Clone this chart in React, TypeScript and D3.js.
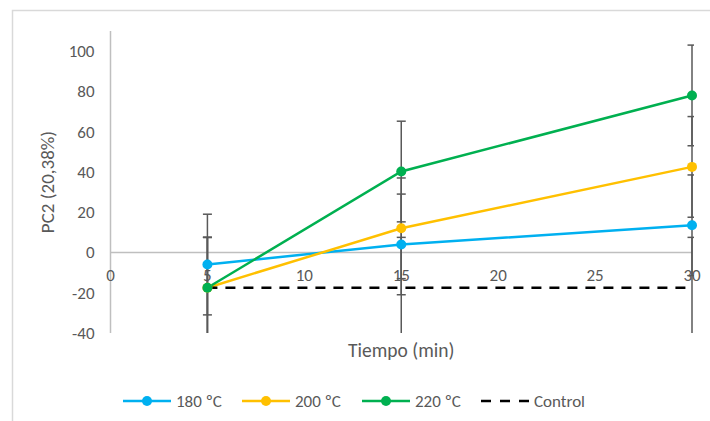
import React from 'react';
import * as d3 from 'd3';

// data
const times = [5, 15, 30];
const s180 = [-6, 4, 13.5];
const s200 = [-17.5, 12, 42.5];
const s220 = [-17.5, 40.2, 78];
const control = [-17.5, -17.5, -17.5];
const errorBar = 25;

const xTicks = [0, 5, 10, 15, 20, 25, 30];
const yTicks = [-40, -20, 0, 20, 40, 60, 80, 100];

const series = [
  { name: '180 ºC', values: s180, color: '#00B0F0', dashed: false },
  { name: '200 ºC', values: s200, color: '#FFC000', dashed: false },
  { name: '220 ºC', values: s220, color: '#00B050', dashed: false },
  { name: 'Control', values: control, color: '#000000', dashed: true },
];

const W = 710;
const H = 421;
const font = "Carlito, Calibri, 'Liberation Sans', sans-serif";

const App = () => {
  const x = d3.scaleLinear().domain([0, 30]).range([110.5, 692]);
  const y = d3.scaleLinear().domain([-40, 110]).range([333, 31]);

  const line = d3
    .line<number>()
    .x((d, i) => x(times[i]))
    .y((d) => y(d));

  const legendX = [123, 242, 362, 481];

  return (
    <svg
      width={W}
      height={H}
      style={{ position: 'absolute', left: 0, top: 0, background: '#fff' }}
    >
      <defs>
        <clipPath id="plot">
          <rect x={100} y={y(110)} width={594} height={y(-40) - y(110)} />
        </clipPath>
      </defs>

      {/* chart frame */}
      <rect x={12.5} y={10.5} width={720} height={430} fill="#fff" stroke="#D9D9D9" strokeWidth={1.5} />

      {/* axes */}
      <line x1={x(0)} x2={x(0)} y1={y(110)} y2={y(-40)} stroke="#BFBFBF" strokeWidth={1.5} />
      <line x1={x(0)} x2={x(30)} y1={y(0)} y2={y(0)} stroke="#BFBFBF" strokeWidth={1.5} />

      {yTicks.map((t) => (
        <text
          key={'y' + t}
          x={94.5}
          y={y(t)}
          dy="0.35em"
          textAnchor="end"
          fontFamily={font}
          fontSize={17}
          fill="#595959"
        >
          {t}
        </text>
      ))}

      {xTicks.map((t) => (
        <text
          key={'x' + t}
          x={x(t)}
          y={y(0) + 23}
          dy="0.35em"
          textAnchor="middle"
          fontFamily={font}
          fontSize={17}
          fill="#595959"
        >
          {t}
        </text>
      ))}

      <text
        transform={`translate(54,${(y(110) + y(-40)) / 2}) rotate(-90)`}
        textAnchor="middle"
        fontFamily={font}
        fontSize={19}
        fill="#595959"
      >
        PC2 (20,38%)
      </text>
      <text
        x={(x(0) + x(30)) / 2}
        y={357}
        textAnchor="middle"
        fontFamily={font}
        fontSize={19.5}
        fill="#595959"
      >
        Tiempo (min)
      </text>

      {/* error bars */}
      <g clipPath="url(#plot)" stroke="#595959" strokeWidth={1.5}>
        {series.map((s) =>
          s.values.map((v, i) => (
            <g key={s.name + i}>
              <line x1={x(times[i])} x2={x(times[i])} y1={y(v + errorBar)} y2={y(v - errorBar)} />
              <line x1={x(times[i]) - 4.5} x2={x(times[i]) + 4.5} y1={y(v + errorBar)} y2={y(v + errorBar)} />
              <line x1={x(times[i]) - 4.5} x2={x(times[i]) + 4.5} y1={y(v - errorBar)} y2={y(v - errorBar)} />
            </g>
          ))
        )}
      </g>

      {/* lines */}
      {series.map((s) => (
        <path
          key={'l' + s.name}
          d={line(s.values) || ''}
          fill="none"
          stroke={s.color}
          strokeWidth={2.5}
          strokeDasharray={s.dashed ? '10,8' : undefined}
        />
      ))}

      {/* markers */}
      {series
        .filter((s) => !s.dashed)
        .map((s) =>
          s.values.map((v, i) => (
            <circle key={'m' + s.name + i} cx={x(times[i])} cy={y(v)} r={5} fill={s.color} />
          ))
        )}

      {/* legend */}
      {series.map((s, i) => (
        <g key={'lg' + s.name} transform={`translate(${legendX[i]},401)`}>
          <line
            x1={0}
            x2={48}
            y1={0}
            y2={0}
            stroke={s.color}
            strokeWidth={2.5}
            strokeDasharray={s.dashed ? '10,9' : undefined}
          />
          {!s.dashed && <circle cx={24} cy={0} r={5} fill={s.color} />}
          <text x={53} y={0} dy="0.35em" fontFamily={font} fontSize={17} fill="#595959">
            {s.name}
          </text>
        </g>
      ))}
    </svg>
  );
};

export default App;
